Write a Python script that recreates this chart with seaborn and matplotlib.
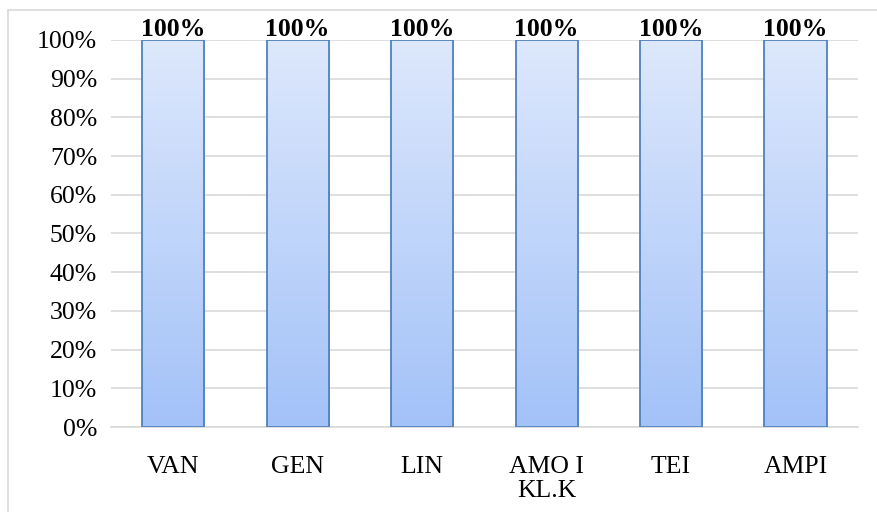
import numpy as np
import pandas as pd
import matplotlib
matplotlib.use("Agg")
import matplotlib.pyplot as plt
import seaborn as sns
from matplotlib.colors import LinearSegmentedColormap
from matplotlib.lines import Line2D

# chart data
drugs = ["VAN", "GEN", "LIN", "AMO I\nKL.K", "TEI", "AMPI"]
sensitivity = [1.00, 1.00, 1.00, 1.00, 1.00, 1.00]
bar_labels = ["100%", "100%", "100%", "100%", "100%", "100%"]
y_ticks = [0.0, 0.1, 0.2, 0.3, 0.4, 0.5, 0.6, 0.7, 0.8, 0.9, 1.0]
y_tick_labels = ["0%", "10%", "20%", "30%", "40%", "50%", "60%", "70%", "80%", "90%", "100%"]

df = pd.DataFrame({"drug": drugs, "value": sensitivity})

sns.set_style("white")
plt.rcParams["font.family"] = ["Liberation Serif", "DejaVu Serif"]
plt.rcParams["text.color"] = "black"

fig = plt.figure(figsize=(8.78, 5.12), dpi=100)
ax = fig.add_axes([0.1264, 0.166, 0.8506, 0.756])

sns.barplot(data=df, x="drug", y="value", color="#C5D8FA", edgecolor="#4F81BD",
            linewidth=1.3, width=0.5, ax=ax, zorder=3)

# gradient fill inside each bar (light on top, darker at bottom)
cmap = LinearSegmentedColormap.from_list("grad", ["#A3C2F8", "#DDE8FC"])
grad = np.linspace(0, 1, 256).reshape(-1, 1)
for p in ax.patches:
    x0, y0 = p.get_x(), p.get_y()
    w, h = p.get_width(), p.get_height()
    im = ax.imshow(grad, cmap=cmap, origin="lower", aspect="auto",
                   extent=[x0, x0 + w, y0, y0 + h], zorder=2)
    im.set_clip_path(p)
    p.set_facecolor("none")
    p.set_zorder(4)

ax.set_xlim(-0.5, len(drugs) - 0.5)
ax.set_ylim(0, 1.0)
ax.set_yticks(y_ticks)
ax.set_yticklabels(y_tick_labels)
ax.tick_params(axis="both", length=0, labelsize=18.5, colors="black")
ax.tick_params(axis="y", pad=10)
ax.tick_params(axis="x", pad=21)
for lbl in ax.get_xticklabels():
    lbl.set_linespacing(1.1)
    lbl.set_verticalalignment("top")
ax.set_xlabel("")
ax.set_ylabel("")
ax.grid(axis="y", color="#D9D9D9", linewidth=1.2, zorder=0)
ax.set_axisbelow(True)
for s in ["top", "right", "left"]:
    ax.spines[s].set_visible(False)
ax.spines["bottom"].set_color("#D9D9D9")
ax.spines["bottom"].set_linewidth(1.2)

for i, (v, t) in enumerate(zip(sensitivity, bar_labels)):
    ax.text(i, v - 0.004, t, ha="center", va="bottom", fontsize=18.5, color="black",
            fontweight="bold", zorder=5, clip_on=False)

# chart border (left and top edges visible)
fig.add_artist(Line2D([8 / 878, 8 / 878], [0, 1 - 10 / 512], transform=fig.transFigure,
                      color="#D9D9D9", linewidth=1.2))
fig.add_artist(Line2D([8 / 878, 1], [1 - 10 / 512, 1 - 10 / 512], transform=fig.transFigure,
                      color="#D9D9D9", linewidth=1.2))

fig.savefig("out.png", dpi=100)
